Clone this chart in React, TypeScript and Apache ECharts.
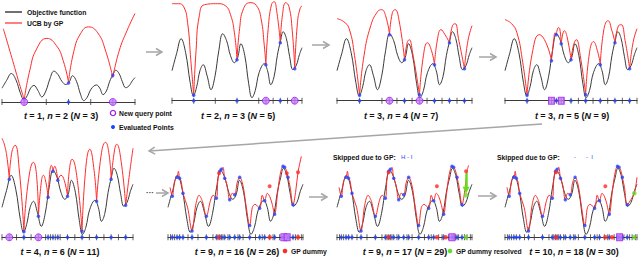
import { useEffect, useRef } from "react";
import * as echarts from "echarts";

const FONT = "'Liberation Sans', Arial, sans-serif";

// Objective function (x: 0..100 of domain, y: value units)
const OBJECTIVE = [
  [0, 30], [3.5, 47], [7, 62], [10.5, 48], [14, 18], [16.5, 5], [19, 14], [21.5, 30], [24, 36],
  [27, 25], [30, 11], [33, 24], [36, 50], [39, 67], [42, 60], [45, 45], [48, 38], [50.5, 43],
  [53, 57], [56, 45], [59, 17], [61.5, 3], [64, 10], [67, 28], [71, 37], [73.5, 30], [76, 16],
  [78.5, 24], [81, 45], [83.5, 60], [85.5, 69], [88, 62], [90.5, 44], [93, 31], [95.5, 35],
  [98, 46], [100, 53],
];

// Objective values at the sampled centres
const CENTER_X = [5.56, 16.7, 27.8, 35.2, 38.9, 42.6, 50, 61.1, 72.2, 83.3, 94.4];
const CENTER_Y = [58, 5.5, 21, 40, 66, 57, 41, 6, 36, 58, 32];

// Panel 1
const P1_EVAL = [16.7, 50, 83.3];
const P1_QUERY = [16.7, 83.3];
const P1_TICKS = [0, 16.7, 33.3, 50, 66.7, 83.3, 100];
const P1_UCB = [
  [[1, 159], [8, 90], [13, 40], [16.7, 5.5]],
  [[16.7, 5.5], [21, 70], [26, 115], [33.7, 138], [41, 122], [46, 90], [50, 43]],
  [[50, 43], [54, 110], [59, 148], [65, 163], [72, 150], [78, 110], [83.3, 53]],
  [[83.3, 53], [88, 110], [94, 155], [100, 192]],
];

// Panel 2
const P2_EVAL = [16.7, 50, 72.2, 83.3, 94.4];
const P2_QUERY = [72.2, 94.4];
const P2_TICKS = [0, 16.7, 33.3, 50, 66.7, 72.2, 77.8, 83.3, 88.9, 94.4, 100];
const P2_UCB = [
  [[0, 97], [5, 97], [9, 94], [12, 78], [14.5, 40], [16.7, 5.5]],
  [[16.7, 5.5], [18.5, 50], [21, 85], [25, 96], [35, 97], [41, 95], [45, 86], [48, 68], [50, 41]],
  [[50, 41], [52, 72], [55, 92], [60, 98], [65, 95], [68.5, 82], [71, 55], [72.2, 36]],
  [[72.2, 36], [74, 72], [76.5, 96], [78.5, 99], [80.5, 90], [83.3, 58]],
  [[83.3, 58], [85, 86], [87.5, 98], [90, 94], [92.5, 70], [94.4, 32]],
  [[94.4, 32], [96.5, 78], [98.5, 92], [100, 95]],
];

// Panel 3
const P3_EVAL = [16.7, 38.9, 50, 61.1, 72.2, 83.3, 94.4];
const P3_QUERY = [38.9, 61.1];
const P3_TICKS = [0, 16.7, 33.3, 38.9, 44.4, 50, 55.6, 61.1, 66.7, 72.2, 77.8, 83.3, 88.9, 94.4, 100];
const P3_UCB = [
  [[0, 82], [5, 79], [9, 72], [13, 45], [16.7, 5.5]],
  [[16.7, 5.5], [20, 45], [25, 75], [30, 89], [33, 91], [36, 85], [38.9, 66]],
  [[38.9, 66], [41, 88], [43, 91], [46, 80], [50, 41]],
  [[50, 41], [52, 58], [53.5, 61], [56, 48], [61.1, 6]],
  [[61.1, 6], [64, 45], [67, 58], [70, 50], [72.2, 36]],
  [[72.2, 36], [74.5, 62], [77, 71], [80, 66], [83.3, 58]],
  [[83.3, 58], [85.5, 75], [87.5, 77], [90, 62], [94.4, 32]],
  [[94.4, 32], [97, 60], [100, 75]],
];

// Panel 4
const P4_EVAL = [16.7, 35.2, 38.9, 42.6, 50, 61.1, 72.2, 83.3, 94.4];
const P4_QUERY = [35.2, 42.6];
const P4_TICKS = [0, 16.7, 33.3, 35.2, 37, 38.9, 40.7, 42.6, 44.4, 50, 55.6, 61.1, 66.7, 72.2, 77.8, 83.3, 88.9, 94.4, 100];
const P4_UCB = [
  [[0, 81], [5, 77], [9, 68], [13, 42], [16.7, 5.5]],
  [[16.7, 5.5], [21, 50], [26, 66], [31, 58], [35.2, 40]],
  [[35.2, 40], [37, 62], [38, 68], [38.9, 66]],
  [[38.9, 66], [40.5, 73], [41.5, 72], [42.6, 57]],
  [[42.6, 57], [45, 70], [47, 64], [50, 41]],
  [[50, 41], [52, 56], [54, 61], [57, 45], [61.1, 6]],
  [[61.1, 6], [64, 48], [67, 59], [70, 50], [72.2, 36]],
  [[72.2, 36], [75, 72], [78, 80], [81, 70], [83.3, 58]],
  [[83.3, 58], [86, 75], [88, 76], [91, 60], [94.4, 32]],
  [[94.4, 32], [97, 58], [100, 72]],
];

// Panel 5
const P5_EVAL = [5.56, 16.7, 27.8, 35.2, 38.9, 42.6, 50, 61.1, 72.2, 83.3, 94.4];
const P5_QUERY = [5.56, 27.8];
const P5_TICKS = [0, 5.56, 11.1, 16.7, 22.2, 27.8, 33.3, 35.2, 37, 38.9, 40.7, 42.6, 44.4, 50, 55.6, 61.1, 66.7, 72.2, 77.8, 83.3, 88.9, 94.4, 100];
const P5_UCB = [
  [[0, 99], [2, 92], [4, 78], [5.56, 58]],
  [[5.56, 58], [7.5, 85], [10, 92], [13, 70], [16.7, 6]],
  [[16.7, 6], [20, 55], [24, 75], [26.5, 60], [27.8, 21]],
  [[27.8, 21], [30, 55], [31.6, 62], [33.5, 55], [35.2, 40]],
  [[35.2, 40], [36.7, 68], [37.7, 72], [38.9, 66]],
  [[38.9, 66], [40.3, 71], [41.3, 68], [42.6, 57]],
  [[42.6, 57], [45, 62], [47.5, 57], [50, 41]],
  [[50, 41], [51.5, 68], [53.5, 78], [57, 62], [61.1, 6]],
  [[61.1, 6], [64, 70], [67, 88], [70, 70], [72.2, 36]],
  [[72.2, 36], [76, 85], [79, 95], [81.5, 85], [83.3, 58]],
  [[83.3, 58], [86, 88], [87.5, 93], [90.5, 80], [94.4, 32]],
  [[94.4, 32], [97, 60], [100, 89]],
];

// Panels 6-8
const LATE_EVAL = [
  [3.2, 41], [6.7, 60], [8.6, 59], [11.1, 44], [17.8, 6.3], [28.4, 21], [35.8, 39], [38.3, 66],
  [39.5, 68], [42, 59], [45.7, 37.5], [49.4, 42.5], [53.1, 60], [60.5, 11.7], [67.9, 29],
  [71.6, 36.5], [79, 23], [85.2, 71], [86.4, 70], [88.9, 60], [92.6, 32.5],
];
const LATE_TICKS = [
  0, 1.85, 3.2, 4.9, 6.7, 8.6, 11.1, 14.8, 17.8, 22.2, 28.4, 33.3, 35.8, 37, 38.3, 39.5, 40.7, 42,
  44.4, 45.7, 49.4, 51.8, 53.1, 55.6, 60.5, 64.8, 67.9, 69.8, 71.6, 75.3, 77.8, 79, 82.7, 85.2,
  86.4, 87.7, 88.9, 90.1, 92.6, 94.4, 96.3, 98.8, 100,
];
const UCB_LATE = [
  [1.5, 50], [3.2, 41], [5, 57], [6.7, 60], [7.7, 66], [8.6, 59], [9.8, 56], [11.1, 44], [14.5, 30],
  [17.8, 6.3], [20.5, 32], [23, 42], [25.5, 36], [28.4, 21], [31.5, 37], [33.5, 42], [35.8, 39],
  [37, 58], [38.3, 66], [39.5, 68], [40.7, 70], [42, 59], [43.8, 52], [45.7, 37.5], [47.5, 44],
  [49.4, 42.5], [51.3, 55], [53.1, 60], [55.5, 52], [58, 30], [60.5, 11.7], [62.5, 30], [64.5, 33],
  [67.9, 29], [69.8, 42], [71.6, 36.5], [73.5, 44], [75.3, 41], [77.2, 33], [79, 23], [81, 42],
  [82.5, 58], [84, 68], [85.2, 71], [86.4, 70], [87.7, 67], [88.9, 60], [90.5, 50], [92.6, 32.5],
];
const UCB_TAIL_6 = [[94.5, 45], [96.3, 65], [98.8, 81]];
const UCB_TAIL_7 = [[94.5, 45], [96.3, 66], [97.5, 72]];
const UCB_TAIL_8 = [[95.5, 38], [98, 44], [100, 60]];

const P6_DUMMY = [[37.8, 64], [75.3, 51], [88, 64], [96.3, 65]];
const P7_DUMMY = [[38.3, 65], [74, 51], [95.6, 66]];
const P8_DUMMY = [[38.7, 65], [76, 51]];
const P7_RESOLVED = [[95.6, 42]];
const P8_RESOLVED = [[98, 44]];
const P6_AXIS_RED = [37.8, 75.3, 96.3];
const P7_AXIS_RED = [38.3, 74, 80.5];
const P8_AXIS_RED = [38.7, 76, 81];
const P6_AXIS_QUERY = [85.8, 88.3];
const P7_AXIS_QUERY = [85.2];
const P8_AXIS_QUERY = [86.8];
const P7_AXIS_GREEN = [95.6];
const P8_AXIS_GREEN = [98];

const LABELS = [
  "t = 1, n = 2 (N = 3)",
  "t = 2, n = 3 (N = 5)",
  "t = 3, n = 4 (N = 7)",
  "t = 3, n = 5 (N = 9)",
  "t = 4, n = 6 (N = 11)",
  "t = 9, n = 16 (N = 26)",
  "t = 9, n = 17 (N = 29)",
  "t = 10, n = 18 (N = 30)",
];

// Layout (pixels)
const LAYOUT = [
  { left: 2, width: 133, base: 102, ymax: 217 },
  { left: 172, width: 130, base: 100.7, ymax: 100 },
  { left: 337, width: 135, base: 100.7, ymax: 100 },
  { left: 505, width: 132, base: 100.7, ymax: 100 },
  { left: 2, width: 131, base: 237.3, ymax: 100 },
  { left: 168, width: 135, base: 237.3, ymax: 100 },
  { left: 337, width: 135, base: 237.3, ymax: 100 },
  { left: 505, width: 132, base: 237.3, ymax: 100 },
];
const LABEL_POS = [[61, 116], [238, 116], [401, 116], [572, 116], [60, 252], [237, 252], [405, 252], [574, 252]];

const BLACK = "#3a3a3a";
const RED = "#ff2b2b";
const BLUE = "#1f45ff";
const PURPLE_FILL = "#c77dff";
const PURPLE_EDGE = "#a020f0";
const GREEN = "#66dd22";
const GRAY = "#a6a6a6";

function yOf(x: number) {
  return CENTER_Y[CENTER_X.indexOf(x)];
}

function line(gi: number, data: number[][], color: string, smooth: number, z = 2) {
  return {
    type: "line", xAxisIndex: gi, yAxisIndex: gi, data, smooth, symbol: "none",
    lineStyle: { color, width: 1 }, silent: true, clip: false, z,
  };
}

function scatter(gi: number, data: number[][], color: string, size: any, symbol = "circle", z = 5, extra: any = {}) {
  return {
    type: "scatter", xAxisIndex: gi, yAxisIndex: gi, data, symbol, symbolSize: size,
    itemStyle: { color, ...(extra.itemStyle || {}) }, silent: true, clip: false, z,
  };
}

function axisMarks(gi: number, ticks: number[]) {
  return scatter(gi, ticks.map((x) => [x, 0]), BLACK, [1, 6], "rect", 3);
}

function buildOption() {
  const series: any[] = [];
  const early = [
    { eval: P1_EVAL, query: P1_QUERY, ticks: P1_TICKS, ucb: P1_UCB, qs: "circle" },
    { eval: P2_EVAL, query: P2_QUERY, ticks: P2_TICKS, ucb: P2_UCB, qs: "circle" },
    { eval: P3_EVAL, query: P3_QUERY, ticks: P3_TICKS, ucb: P3_UCB, qs: "circle" },
    { eval: P4_EVAL, query: P4_QUERY, ticks: P4_TICKS, ucb: P4_UCB, qs: "rect" },
    { eval: P5_EVAL, query: P5_QUERY, ticks: P5_TICKS, ucb: P5_UCB, qs: "circle" },
  ];
  early.forEach((p, gi) => {
    series.push(line(gi, OBJECTIVE, BLACK, 0.4));
    p.ucb.forEach((seg) => series.push(line(gi, seg, RED, 0.5, 3)));
    series.push(scatter(gi, p.eval.map((x) => [x, yOf(x)]), BLUE, 3.5));
    series.push(axisMarks(gi, p.ticks));
    series.push(scatter(gi, p.eval.filter((x) => !p.query.includes(x)).map((x) => [x, 0]), BLUE, 3.5, "circle", 6));
    series.push(
      scatter(gi, p.query.map((x) => [x, 0]), PURPLE_FILL, p.qs === "rect" ? [6, 7] : 7, p.qs, 7, {
        itemStyle: { borderColor: PURPLE_EDGE, borderWidth: 1 },
      })
    );
  });

  const late = [
    { tail: UCB_TAIL_6, dummy: P6_DUMMY, resolved: [] as number[][], ared: P6_AXIS_RED, aq: P6_AXIS_QUERY, ag: [] as number[] },
    { tail: UCB_TAIL_7, dummy: P7_DUMMY, resolved: P7_RESOLVED, ared: P7_AXIS_RED, aq: P7_AXIS_QUERY, ag: P7_AXIS_GREEN },
    { tail: UCB_TAIL_8, dummy: P8_DUMMY, resolved: P8_RESOLVED, ared: P8_AXIS_RED, aq: P8_AXIS_QUERY, ag: P8_AXIS_GREEN },
  ];
  late.forEach((p, k) => {
    const gi = 5 + k;
    series.push(line(gi, OBJECTIVE, BLACK, 0.4));
    series.push(line(gi, UCB_LATE.concat(p.tail), RED, 0.35, 3));
    series.push(scatter(gi, LATE_EVAL, BLUE, 3.5));
    series.push(scatter(gi, p.dummy, RED, 4, "circle", 6));
    const green: any = scatter(gi, p.resolved, GREEN, 4.5, "circle", 6);
    if (k === 1) {
      green.markLine = {
        silent: true, symbol: ["none", "triangle"], symbolSize: [7, 7],
        lineStyle: { color: GREEN, width: 2.5, type: "solid" }, label: { show: false },
        data: [[{ coord: [95.6, 64] }, { coord: [95.6, 47] }]],
      };
    }
    series.push(green);
    series.push(axisMarks(gi, LATE_TICKS));
    series.push(scatter(gi, LATE_EVAL.map((d) => [d[0], 0]), BLUE, 3.5, "circle", 6));
    series.push(scatter(gi, p.ared.map((x) => [x, 0]), RED, 4.5, "circle", 7));
    series.push(scatter(gi, p.ag.map((x) => [x, 0]), GREEN, 4.5, "circle", 7));
    series.push(
      scatter(gi, p.aq.map((x) => [x, 0]), PURPLE_FILL, [6, 7], "rect", 7, {
        itemStyle: { borderColor: PURPLE_EDGE, borderWidth: 1 },
      })
    );
  });

  const grid = LAYOUT.map((l) => ({
    left: l.left, width: l.width, top: l.base - 100, height: 100,
    containLabel: false, outerBoundsMode: "none",
  }));
  const xAxis = LAYOUT.map((_, i) => ({
    type: "value", gridIndex: i, min: 0, max: 100,
    axisLine: { show: true, onZero: false, lineStyle: { color: BLACK, width: 1 } },
    axisTick: { show: false }, axisLabel: { show: false }, splitLine: { show: false },
  }));
  const yAxis = LAYOUT.map((l, i) => ({ type: "value", gridIndex: i, min: 0, max: l.ymax, show: false }));

  const graphic: any[] = [];
  const txt = (x: number, y: number, text: string, size: number, extra: any = {}) => ({
    type: "text", x, y, silent: true,
    style: {
      text, fontSize: size, fontWeight: "bold", fontFamily: FONT, fill: "#111",
      align: "left", verticalAlign: "middle", ...extra,
    },
  });
  const note = (x: number, y: number, text: string, extra: any = {}) => txt(x, y, text, 6.8, extra);
  const arrow = (x1: number, y1: number, x2: number, y2: number) => {
    const a = Math.atan2(y2 - y1, x2 - x1);
    const L = 6, W = 3.5;
    const bx = x2 - L * Math.cos(a), by = y2 - L * Math.sin(a);
    const px = -Math.sin(a) * W, py = Math.cos(a) * W;
    graphic.push({ type: "line", silent: true, shape: { x1, y1, x2, y2 }, style: { stroke: GRAY, lineWidth: 1.5 } });
    graphic.push({
      type: "polyline", silent: true,
      shape: { points: [[bx + px, by + py], [x2, y2], [bx - px, by - py]] },
      style: { stroke: GRAY, lineWidth: 1.5, fill: null },
    });
  };

  // legend top-left
  graphic.push({ type: "line", silent: true, shape: { x1: 5, y1: 12, x2: 22, y2: 12 }, style: { stroke: "#111", lineWidth: 1.2 } });
  graphic.push(note(27, 12, "Objective function"));
  graphic.push({ type: "line", silent: true, shape: { x1: 5, y1: 23, x2: 22, y2: 23 }, style: { stroke: RED, lineWidth: 1.2 } });
  graphic.push(note(27, 23, "UCB by GP"));

  // legend markers
  graphic.push({ type: "circle", silent: true, shape: { cx: 113, cy: 113, r: 2.6 }, style: { fill: "#fff", stroke: PURPLE_EDGE, lineWidth: 1.3 } });
  graphic.push(note(119, 113, "New query point"));
  graphic.push({ type: "circle", silent: true, shape: { cx: 113, cy: 127, r: 2 }, style: { fill: BLUE } });
  graphic.push(note(119, 127, "Evaluated Points"));
  graphic.push({ type: "circle", silent: true, shape: { cx: 285, cy: 251, r: 2.3 }, style: { fill: RED } });
  graphic.push(note(291, 251, "GP dummy"));
  graphic.push({ type: "circle", silent: true, shape: { cx: 450, cy: 251, r: 2.3 }, style: { fill: GREEN } });
  graphic.push(note(456, 251, "GP dummy resolved"));

  // skipped
  graphic.push(note(333, 157, "Skipped due to GP:"));
  graphic.push(txt(401, 157, "H - I", 6, { fill: BLUE, fontWeight: "normal" }));
  graphic.push(note(497, 157, "Skipped due to GP:"));
  graphic.push(txt(574, 157, "-      -  I", 6, { fill: BLUE, fontWeight: "normal" }));

  // panel labels
  LABELS.forEach((lab, i) => {
    graphic.push(
      txt(LABEL_POS[i][0], LABEL_POS[i][1], lab.replace(/\b([tnN])\b/g, "{i|$1}"), 9, {
        align: "center",
        rich: { i: { fontStyle: "italic", fontWeight: "bold", fontSize: 9, fontFamily: FONT, fill: "#111" } },
      })
    );
  });

  // arrows
  arrow(146, 52, 162, 52);
  arrow(312, 45, 329, 45);
  arrow(479, 57, 496, 57);
  arrow(542, 124, 149, 151);
  graphic.push(txt(146, 192, "···", 8, { fill: "#333" }));
  arrow(156, 193, 168, 193);
  arrow(309, 197, 327, 197);
  arrow(478, 196, 496, 196);

  return { animation: false, backgroundColor: "#fff", grid, xAxis, yAxis, series, graphic };
}

export default function App() {
  const ref = useRef<HTMLDivElement>(null);
  useEffect(() => {
    if (!ref.current) return;
    const chart = echarts.init(ref.current, undefined, { renderer: "svg" });
    chart.setOption(buildOption() as any);
    return () => chart.dispose();
  }, []);
  return <div ref={ref} style={{ position: "fixed", left: 0, top: 0, width: 640, height: 259, background: "#fff" }} />;
}
